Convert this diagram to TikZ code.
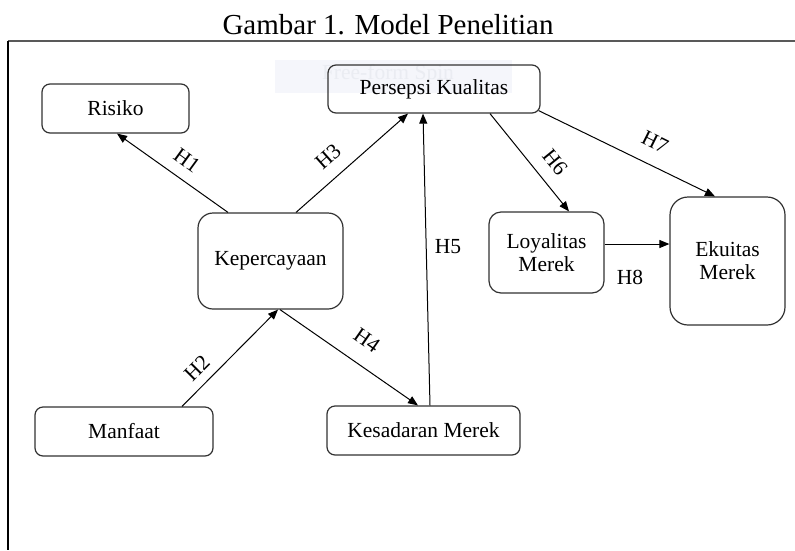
\documentclass[tikz,border=0pt]{standalone}
\usepackage{fontspec}
\setmainfont{Liberation Serif}
\usepackage{xcolor}
\usepackage{tikz}
\usetikzlibrary{arrows.meta}
\definecolor{boxline}{RGB}{50,50,50}
\definecolor{spinbg}{RGB}{245,246,251}
\definecolor{spintext}{RGB}{234,236,242}
\newcommand{\nodefont}{\fontsize{21.5}{24}\selectfont}
\newcommand{\titlefont}{\fontsize{29}{32}\selectfont}

\begin{document}
\begin{tikzpicture}[x=1pt,y=-1pt,>={Triangle[length=10pt,width=8pt]}]
    \tikzstyle{var} = [draw=boxline,line width=1.2pt,fill=white,rounded corners=8pt,align=center,inner sep=0pt,font=\nodefont]
    \tikzstyle{hyp} = [inner sep=0pt,font=\nodefont]
    \useasboundingbox (0,0) rectangle (795,550);
    \node[anchor=base,font=\titlefont] (judul) at (388,34.5) {Gambar 1. Model Penelitian};
    \draw[line width=2pt,black!65] (8,41) -- (795,41);
    \draw[line width=1.2pt] (8,41) -- (8,550);
    \fill[spinbg] (275,60) rectangle (512,93);
    \node[font=\nodefont,text=spintext] (spin) at (388,74) {Free-form Spin};
    \node[var,minimum width=147pt,minimum height=49pt] (risiko) at (115.5,108.5) {Risiko};
    \node[var,fill=none,minimum width=212pt,minimum height=48pt] (persepsi) at (434,89) {Persepsi Kualitas};
    \node[var,rounded corners=15pt,minimum width=145pt,minimum height=96pt] (kepercayaan) at (270.5,261) {Kepercayaan};
    \node[var,minimum width=178pt,minimum height=49pt] (manfaat) at (124,431.5) {Manfaat};
    \node[var,minimum width=193pt,minimum height=49pt] (kesadaran) at (423.5,430.5) {Kesadaran Merek};
    \node[var,rounded corners=12pt,minimum width=115pt,minimum height=81pt] (loyalitas) at (546.5,252.5) {Loyalitas\\[-1pt]Merek};
    \node[var,rounded corners=18pt,minimum width=115pt,minimum height=128pt] (ekuitas) at (727.5,261) {Ekuitas\\[-1pt]Merek};
    \begin{scope}[->,line width=1pt]
      \draw ([xshift=-42.5pt]kepercayaan.north) -- ([xshift=1.5pt]risiko.south);
      \draw ([xshift=25.5pt]kepercayaan.north) -- ([xshift=-26pt]persepsi.south);
      \draw ([xshift=58pt]manfaat.north) -- ([xshift=7.5pt]kepercayaan.south);
      \draw ([xshift=9.5pt]kepercayaan.south) -- ([xshift=-5.5pt]kesadaran.north);
      \draw ([xshift=6.5pt]kesadaran.north) -- ([xshift=-11pt]persepsi.south);
      \draw ([xshift=56pt]persepsi.south) -- ([xshift=22.5pt]loyalitas.north);
      \draw ([xshift=-2pt,yshift=3pt]persepsi.south east) -- ([xshift=-12.5pt]ekuitas.north);
      \draw ([yshift=8.5pt]loyalitas.east) -- ([yshift=8.5pt]loyalitas.east -| ekuitas.west);
    \end{scope}
    \node[hyp,rotate=-36] (h1) at (187,160) {H1};
    \node[hyp,rotate=45] (h2) at (197,368) {H2};
    \node[hyp,rotate=41.5] (h3) at (328,157) {H3};
    \node[hyp,rotate=-35] (h4) at (367,340) {H4};
    \node[hyp] (h5) at (448,247) {H5};
    \node[hyp,rotate=-51] (h6) at (555,162) {H6};
    \node[hyp,rotate=-26.5] (h7) at (655,142) {H7};
    \node[hyp] (h8) at (630,277) {H8};
  \end{tikzpicture}
\end{document}
